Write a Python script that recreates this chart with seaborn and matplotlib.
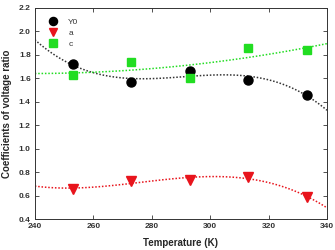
import matplotlib
matplotlib.use('Agg')
import matplotlib.pyplot as plt
import numpy as np
import pandas as pd
import seaborn as sns

# values
temperature = [253, 273, 293, 313, 333]
y0_vals = [1.72, 1.57, 1.66, 1.59, 1.46]
a_vals = [0.66, 0.72, 0.73, 0.76, 0.59]
c_vals = [1.63, 1.74, 1.60, 1.86, 1.84]

sns.set_style('ticks')
plt.rcParams['font.family'] = ['Liberation Sans', 'DejaVu Sans']

df = pd.DataFrame({'T': temperature, 'Y0': y0_vals, 'a': a_vals, 'c': c_vals})

fig = plt.figure(figsize=(3.35, 2.5), dpi=100)
ax = fig.add_axes([0.104, 0.124, 0.872, 0.844])
ax.set_xlim(240, 340)
ax.set_ylim(0.4, 2.2)

series = [
    ('Y0', 'o', 'black', '#333333', 3, 6.5),
    ('a', 'v', '#e8141c', '#e8141c', 3, 6.5),
    ('c', 's', '#22dd22', '#22dd22', 2, 6),
]
for name, mk, col, lcol, order, ms in series:
    sns.regplot(data=df, x='T', y=name, ax=ax, order=order, ci=None, truncate=False,
                scatter=False, line_kws={'color': lcol, 'ls': (0, (1, 1.2)), 'lw': 1.1})
    ax.plot(df['T'], df[name], ls='none', marker=mk, color=col, ms=ms, label=name)

ax.set_xticks(range(240, 341, 20))
ax.set_yticks(np.arange(0.4, 2.21, 0.2))
ax.set_yticklabels([f'{v:.1f}' for v in np.arange(0.4, 2.21, 0.2)])
ax.tick_params(labelsize=6, colors='#333333', length=3, width=0.6, pad=3,
               direction='in', top=True, right=True)
for lab in ax.get_xticklabels() + ax.get_yticklabels():
    lab.set_fontweight('bold')
for s in ax.spines.values():
    s.set_linewidth(0.7)
    s.set_color('#333333')

ax.set_xlabel('Temperature (K)', fontsize=7, fontweight='bold', labelpad=6)
ax.set_ylabel('Coefficients of voltage ratio', fontsize=7, fontweight='bold', labelpad=5)

leg = ax.legend(loc='upper left', frameon=False, fontsize=6, handletextpad=0.8,
                borderaxespad=0.8, labelspacing=0.4, markerscale=0.9)
for t in leg.get_texts():
    t.set_color('#333333')

fig.savefig('out.png', dpi=100)
